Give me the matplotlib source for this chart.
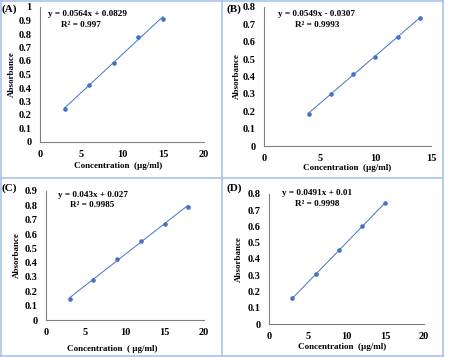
import matplotlib.pyplot as plt
import numpy as np

plt.rcParams['font.family'] = ['Liberation Serif', 'DejaVu Serif']
plt.rcParams['font.weight'] = 'bold'

W, H = 449, 357

# panel data
xa = [3, 6, 9, 12, 15]
ya = [0.245, 0.42, 0.585, 0.78, 0.91]
xb = [4, 6, 8, 10, 12, 14]
yb = [0.185, 0.30, 0.415, 0.51, 0.63, 0.735]
xc = [3, 6, 9, 12, 15, 18]
yc = [0.15, 0.28, 0.425, 0.55, 0.67, 0.79]
xd = [3, 6, 9, 12, 15]
yd = [0.16, 0.31, 0.455, 0.605, 0.745]

labels = ['(A)', '(B)', '(C)', '(D)']
eqs = ['y = 0.0564x + 0.0829', 'y = 0.0549x - 0.0307',
       'y = 0.043x + 0.027', 'y = 0.0491x + 0.01']
r2s = ['R² = 0.997', 'R² = 0.9993', 'R² = 0.9985', 'R² = 0.9998']
fits = [(0.0564, 0.0829), (0.0549, -0.0307), (0.043, 0.027), (0.0491, 0.01)]
xlabs = ['Concentration  (µg/ml)', 'Concentration  (µg/ml)',
         'Concentration  ( µg/ml)', 'Concentration  (µg/ml)']
xmax = [20, 15, 20, 20]
ymax = [1.0, 0.8, 0.9, 0.8]
xticks = [[0, 5, 10, 15, 20], [0, 5, 10, 15], [0, 5, 10, 15, 20], [0, 5, 10, 15, 20]]

# pixel boxes (left, top, right, bottom) for plot areas
boxes = [(40, 7, 204, 142), (264, 7, 431, 146),
         (46, 191, 204, 320), (269, 194, 424, 324)]
eq_pos = [(87, 14), (316, 14), (93, 195), (317, 193)]
r2_pos = [(81, 25), (317, 25), (92, 205), (317, 204)]
lab_pos = [(2, 9), (226, 9), (2, 188), (226, 188)]
xlab_pos = [(118, 166), (347, 168), (112, 349), (342, 347)]
ylab_x = [12, 237, 17, 239]

fig = plt.figure(figsize=(W / 100, H / 100), dpi=100)

def fx(px):
    return px / W

def fy(py):
    return 1 - py / H

data = [(xa, ya), (xb, yb), (xc, yc), (xd, yd)]
blue = '#4472C4'
for i, (x, y) in enumerate(data):
    l, t, r, b = boxes[i]
    ax = fig.add_axes([fx(l), fy(b), fx(r) - fx(l), fy(t) - fy(b)])
    ax.scatter(x, y, s=11, color=blue, zorder=3, linewidths=0)
    m, c = fits[i]
    xx = np.array([min(x), max(x)])
    ax.plot(xx, m * xx + c, color=blue, lw=0.7)
    ax.set_xlim(0, xmax[i])
    ax.set_ylim(0, ymax[i])
    ax.set_xticks(xticks[i])
    ax.set_yticks(np.round(np.arange(0, ymax[i] + 0.01, 0.1), 1))
    ax.set_yticklabels(['0' if v == 0 else ('1' if v == 1 else f'{v:.1f}') for v in ax.get_yticks()])
    ax.tick_params(length=0, labelsize=7.5, pad=6)
    for s in ['top', 'right']:
        ax.spines[s].set_visible(False)
    for s in ['left', 'bottom']:
        ax.spines[s].set_color('#808080')
        ax.spines[s].set_linewidth(0.8)
    ax.patch.set_alpha(0)
    fig.text(fx(eq_pos[i][0]), fy(eq_pos[i][1]), eqs[i], ha='center', va='center',
             fontsize=6.6, fontweight='bold')
    fig.text(fx(r2_pos[i][0]), fy(r2_pos[i][1]), r2s[i], ha='center', va='center',
             fontsize=6.6, fontweight='bold')
    fig.text(fx(lab_pos[i][0]), fy(lab_pos[i][1]), labels[i], ha='left', va='center',
             fontsize=8, fontweight='bold')
    fig.text(fx(xlab_pos[i][0]), fy(xlab_pos[i][1]), xlabs[i], ha='center', va='center',
             fontsize=6.5, fontweight='bold')
    fig.text(fx(ylab_x[i]), fy((t + b) / 2), 'Absorbance', ha='center', va='center',
             rotation=90, fontsize=6.5, fontweight='bold')

# panel frames
frame = '#A9C4E8'
for xv in [1, 222, 443]:
    fig.add_artist(plt.Line2D([fx(xv), fx(xv)], [0, 1], color=frame, lw=1.2))
for yv in [1, 178, 356]:
    fig.add_artist(plt.Line2D([0, fx(443)], [fy(yv), fy(yv)], color=frame, lw=1.2))

fig.savefig('out.png', dpi=100)
